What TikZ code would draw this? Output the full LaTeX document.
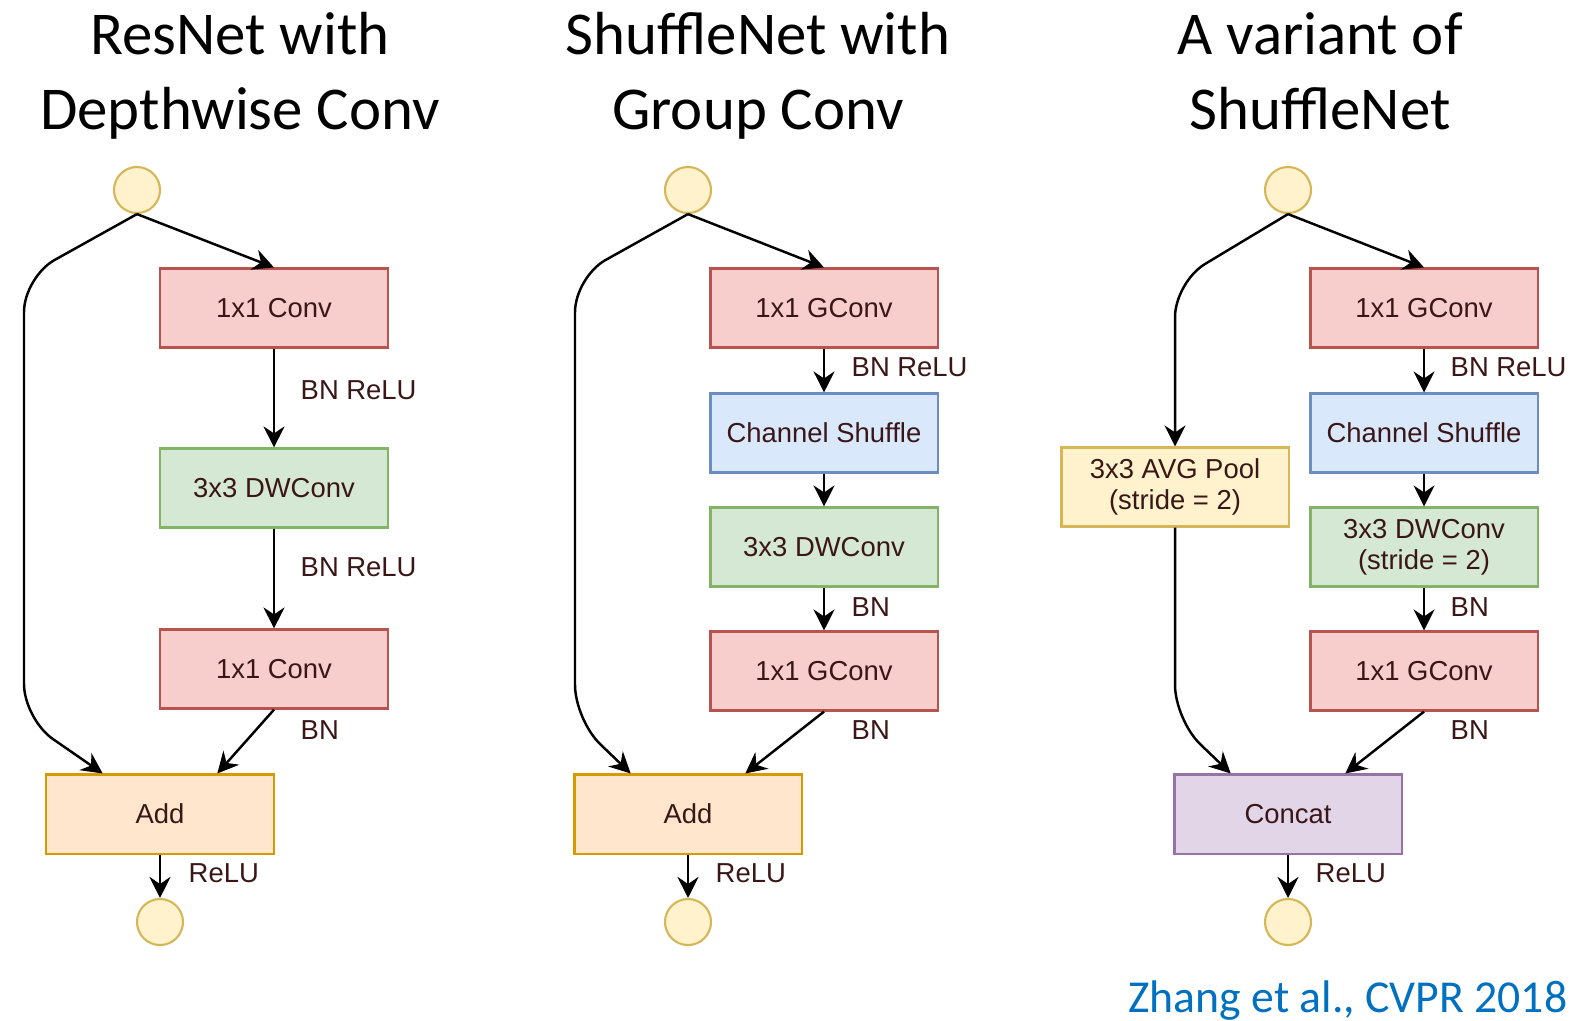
\documentclass[tikz,border=0pt]{standalone}
\usepackage{fontspec}
\setmainfont{Liberation Sans}[Ligatures=NoCommon]
\newfontfamily\titlefont{Carlito}
\usetikzlibrary{positioning, arrows.meta, calc}

\definecolor{txt}{HTML}{3A1616}
\definecolor{redfill}{HTML}{F8CECC}\definecolor{redline}{HTML}{B85450}
\definecolor{greenfill}{HTML}{D5E8D4}\definecolor{greenline}{HTML}{82B366}
\definecolor{bluefill}{HTML}{DAE8FC}\definecolor{blueline}{HTML}{6C8EBF}
\definecolor{yellowfill}{HTML}{FFF2CC}\definecolor{yellowline}{HTML}{D6B656}
\definecolor{orangefill}{HTML}{FFE6CC}\definecolor{orangeline}{HTML}{D79B00}
\definecolor{purplefill}{HTML}{E1D5E7}\definecolor{purpleline}{HTML}{9673A6}
\definecolor{cite}{HTML}{0070C0}

\begin{document}
\begin{tikzpicture}[
    x=0.01cm, y=-0.01cm,
    block/.style={rectangle, draw, line width=0.6pt, minimum width=2.27cm, minimum height=0.79cm,
        inner sep=0pt, align=center, text=txt, font=\fontsize{7.8}{8.8}\selectfont},
    conv/.style={block, fill=redfill, draw=redline},
    dwconv/.style={block, fill=greenfill, draw=greenline},
    shuffle/.style={block, fill=bluefill, draw=blueline},
    pool/.style={block, fill=yellowfill, draw=yellowline},
    merge/.style={block, fill=orangefill, draw=orangeline},
    concat/.style={block, fill=purplefill, draw=purpleline},
    io/.style={circle, draw=yellowline, fill=yellowfill, line width=0.6pt, minimum size=0.46cm, inner sep=0pt},
    flow/.style={-{Stealth[length=2.1mm, width=2.1mm, inset=0.7mm]}, line width=0.7pt},
    skip/.style={flow, rounded corners=0.35cm},
    lbl/.style={anchor=west, inner sep=0pt, text=txt, font=\fontsize{7.8}{8.8}\selectfont},
    title/.style={anchor=north, inner sep=0pt, align=center, font=\titlefont\fontsize{17.3}{21.3}\selectfont}
]
\useasboundingbox (0,0) rectangle (1574,1020);

% Titles
\node[title] (t1) at (240,12) {ResNet with\\Depthwise Conv};
\node[title] (t2) at (758,12) {ShuffleNet with\\Group Conv};
\node[title] (t3) at (1320,12) {A variant of\\ShuffleNet};

% Left: ResNet block
\node[io] (in1) at (137,190) {};
\node[conv] (a1) at (274,308) {1x1 Conv};
\node[dwconv] (b1) at (274,488) {3x3 DWConv};
\node[conv] (c1) at (274,669) {1x1 Conv};
\node[merge] (add1) at (160,814) {Add};
\node[io] (out1) at (160,922) {};

\draw[flow] (in1.south) -- (a1.north);
\draw[flow] (a1) -- (b1);
\draw[flow] (b1) -- (c1);
\draw[flow] (c1.south) -- ($(add1.north west)!.75!(add1.north east)$);
\draw[skip] (in1.south) -- (24,277) -- (24,719) -- ($(add1.north west)!.25!(add1.north east)$);
\draw[flow] (add1) -- (out1);

\node[lbl] (l1a) at (300,390) {BN ReLU};
\node[lbl] (l1b) at (300,567) {BN ReLU};
\node[lbl] (l1c) at (300,730) {BN};
\node[lbl] (l1d) at (188,873) {ReLU};

% Middle: ShuffleNet block
\node[io] (in2) at (688,190) {};
\node[conv] (a2) at (824,308) {1x1 GConv};
\node[shuffle] (b2) at (824,433) {Channel Shuffle};
\node[dwconv] (c2) at (824,547) {3x3 DWConv};
\node[conv] (d2) at (824,671) {1x1 GConv};
\node[merge] (add2) at (688,814) {Add};
\node[io] (out2) at (688,922) {};

\draw[flow] (in2.south) -- (a2.north);
\draw[flow] (a2) -- (b2);
\draw[flow] (b2) -- (c2);
\draw[flow] (c2) -- (d2);
\draw[flow] (d2.south) -- ($(add2.north west)!.75!(add2.north east)$);
\draw[skip] (in2.south) -- (575,277) -- (575,720) -- ($(add2.north west)!.25!(add2.north east)$);
\draw[flow] (add2) -- (out2);

\node[lbl] (l2a) at (851,367) {BN ReLU};
\node[lbl] (l2b) at (851,607) {BN};
\node[lbl] (l2c) at (851,730) {BN};
\node[lbl] (l2d) at (715,873) {ReLU};

% Right: ShuffleNet with stride 2
\node[io] (in3) at (1288,190) {};
\node[conv] (a3) at (1424,308) {1x1 GConv};
\node[shuffle] (b3) at (1424,433) {Channel Shuffle};
\node[dwconv] (c3) at (1424,547) {3x3 DWConv\\(stride = 2)};
\node[conv] (d3) at (1424,671) {1x1 GConv};
\node[pool] (p3) at (1175,487) {3x3 AVG Pool\\(stride = 2)};
\node[concat] (cat3) at (1288,814) {Concat};
\node[io] (out3) at (1288,922) {};

\draw[flow] (in3.south) -- (a3.north);
\draw[flow] (a3) -- (b3);
\draw[flow] (b3) -- (c3);
\draw[flow] (c3) -- (d3);
\draw[flow] (d3.south) -- ($(cat3.north west)!.75!(cat3.north east)$);
\draw[skip] (in3.south) -- (1175,282) -- (p3.north);
\draw[skip] (p3.south) -- (1175,720) -- ($(cat3.north west)!.25!(cat3.north east)$);
\draw[flow] (cat3) -- (out3);

\node[lbl] (l3a) at (1450,367) {BN ReLU};
\node[lbl] (l3b) at (1450,607) {BN};
\node[lbl] (l3c) at (1450,730) {BN};
\node[lbl] (l3d) at (1315,873) {ReLU};

% Citation
\node[anchor=base east, inner sep=0pt, text=cite, font=\titlefont\fontsize{13}{15}\selectfont] (ref) at (1568,1012) {Zhang et al., CVPR 2018};

\end{tikzpicture}
\end{document}
